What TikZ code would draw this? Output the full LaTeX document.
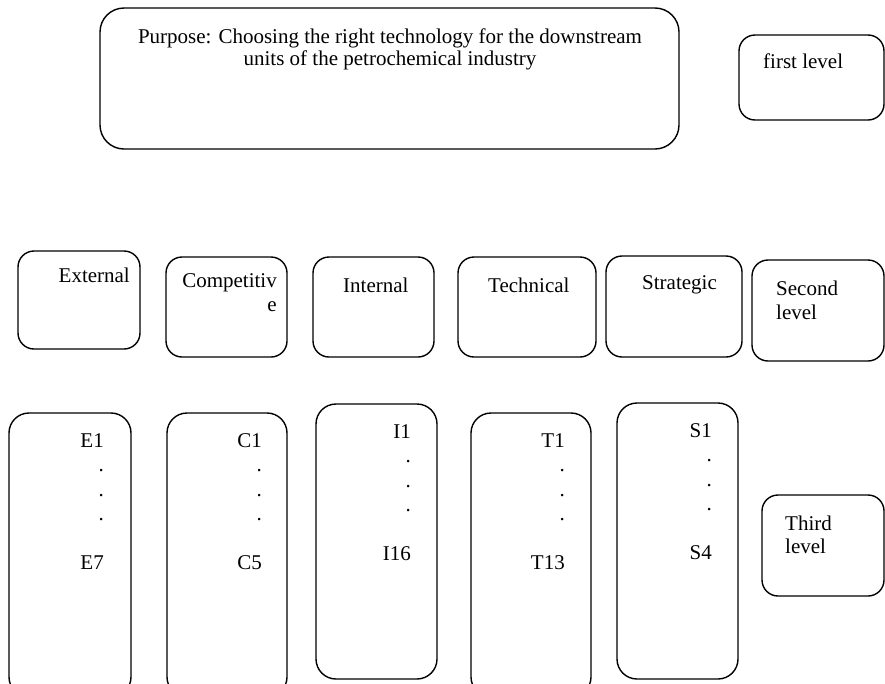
\documentclass[tikz,border=0pt]{standalone}
\usepackage{fontspec}
\setmainfont{Liberation Serif}
\usetikzlibrary{fit}
\tikzset{
  box/.style={draw, line width=1.4pt, rounded corners=16pt, inner sep=0pt},
  tallbox/.style={box, rounded corners=20pt},
  bigbox/.style={box, rounded corners=24pt},
  txt/.style={inner sep=0pt, font=\fontsize{21}{24.5}\selectfont},
}
\begin{document}
\begin{tikzpicture}[x=1pt,y=-1pt]
\useasboundingbox (0,0) rectangle (885,683);
% first level
\node[bigbox, fit={(100,8) (679,149)}] (goal) {};
\node[txt, anchor=base] (goalt1) at (390,43) {Purpose: Choosing the right technology for the downstream};
\node[txt, anchor=base] (goalt2) at (390,65) {units of the petrochemical industry};
\node[box, fit={(739,35) (884,120)}] (lvl1) {};
\node[txt, anchor=base west] (lvl1t) at (763,68) {first level};
% second level
\node[box, fit={(18,251) (140,349)}] (ext) {};
\node[txt, anchor=base east] (extt) at (130,282) {External};
\node[box, fit={(166,257) (287,357)}] (comp) {};
\node[txt, anchor=base east] (compt1) at (277,287) {Competitiv};
\node[txt, anchor=base east] (compt2) at (277,311) {e};
\node[box, fit={(313,257) (434,357)}] (int) {};
\node[txt, anchor=base west] (intt) at (343,292) {Internal};
\node[box, fit={(458,257) (596,357)}] (tech) {};
\node[txt, anchor=base west] (techt) at (488,292) {Technical};
\node[box, fit={(606,256) (742,357)}] (strat) {};
\node[txt, anchor=base west] (stratt) at (642,289) {Strategic};
\node[box, fit={(752,260) (884,361)}] (lvl2) {};
\node[txt, anchor=base west] (lvl2t1) at (776,295) {Second};
\node[txt, anchor=base west] (lvl2t2) at (776,319) {level};
% third level
\node[tallbox, fit={(9,413) (131,697)}] (ebox) {};
\node[txt, anchor=north east, align=right] (elist) at (104,433) {E1\\.\\.\\.\\[24.5pt]E7};
\node[tallbox, fit={(167,413) (287,697)}] (cbox) {};
\node[txt, anchor=north east, align=right] (clist) at (262,433) {C1\\.\\.\\.\\[24.5pt]C5};
\node[tallbox, fit={(316,404) (437,679)}] (ibox) {};
\node[txt, anchor=north east, align=right] (ilist) at (411,424) {I1\\.\\.\\.\\[24.5pt]I16};
\node[tallbox, fit={(471,413) (591,697)}] (tbox) {};
\node[txt, anchor=north east, align=right] (tlist) at (565,433) {T1\\.\\.\\.\\[24.5pt]T13};
\node[tallbox, fit={(617,403) (738,679)}] (sbox) {};
\node[txt, anchor=north east, align=right] (slist) at (712,423) {S1\\.\\.\\.\\[24.5pt]S4};
\node[box, fit={(762,495) (884,596)}] (lvl3) {};
\node[txt, anchor=base west] (lvl3t1) at (785,530) {Third};
\node[txt, anchor=base west] (lvl3t2) at (785,553) {level};
\end{tikzpicture}
\end{document}
